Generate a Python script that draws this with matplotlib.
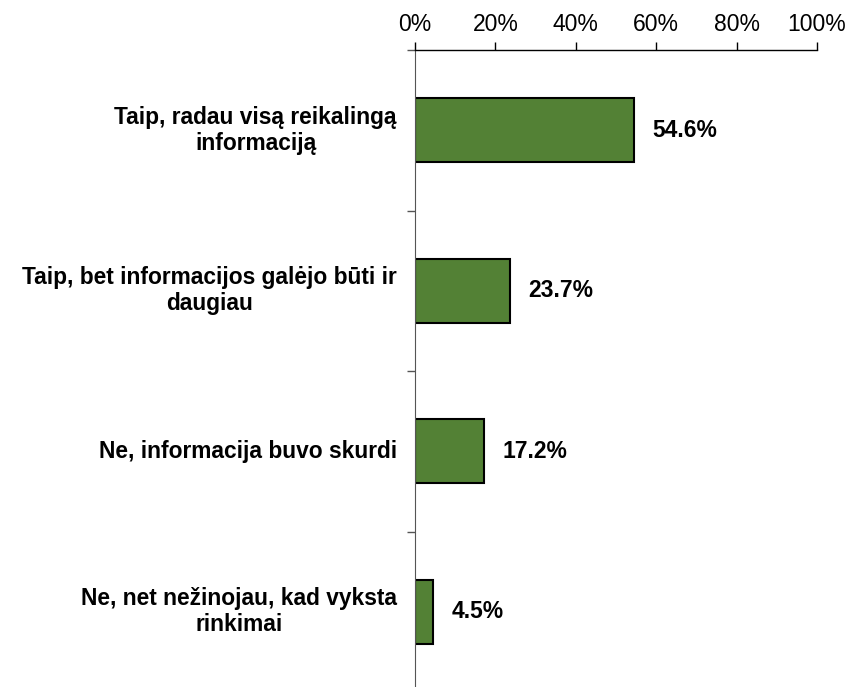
import matplotlib
matplotlib.use("Agg")
import matplotlib.pyplot as plt
from matplotlib.ticker import FixedLocator, PercentFormatter

categories = [
    "Taip, radau visą reikalingą\ninformaciją",
    "Taip, bet informacijos galėjo būti ir\ndaugiau",
    "Ne, informacija buvo skurdi",
    "Ne, net nežinojau, kad vyksta\nrinkimai",
]
values = [54.6, 23.7, 17.2, 4.5]
x_ticks = [0, 20, 40, 60, 80, 100]

GREEN = "#538135"

plt.rcParams.update({"font.family": ["Liberation Sans", "DejaVu Sans"]})
fig = plt.figure(figsize=(8.5, 6.87), dpi=100, facecolor="white")
ax = fig.add_axes([415 / 850, -5 / 687, 402 / 850, 642 / 687])

pos = list(range(len(categories)))
ax.barh(pos, values, height=0.4, color=GREEN, edgecolor="black", linewidth=1.5)
ax.set_xlim(0, 100)
ax.set_ylim(len(categories) - 0.5, -0.5)

for p, v in zip(pos, values):
    ax.text(v + 4.5, p, f"{v:.1f}%", fontsize=16.5, fontweight="bold",
            va="center", ha="left")
    ax.text(-4.5, p, categories[p], fontsize=16.4, fontweight="bold",
            va="center", ha="right", multialignment="center", linespacing=1.15)

ax.xaxis.tick_top()
ax.set_xticks(x_ticks)
ax.xaxis.set_major_formatter(PercentFormatter(decimals=0))
ax.tick_params(axis="x", labelsize=16.5, length=6, width=1, pad=4)

ax.yaxis.set_major_locator(FixedLocator([-0.5, 0.5, 1.5, 2.5]))
ax.set_yticklabels([])
ax.tick_params(axis="y", length=6, width=1, color="#555555")

for s in ("right", "bottom"):
    ax.spines[s].set_visible(False)
ax.spines["left"].set_color("#555555")
ax.spines["top"].set_linewidth(1)

fig.savefig("out.png", dpi=100, facecolor="white")
